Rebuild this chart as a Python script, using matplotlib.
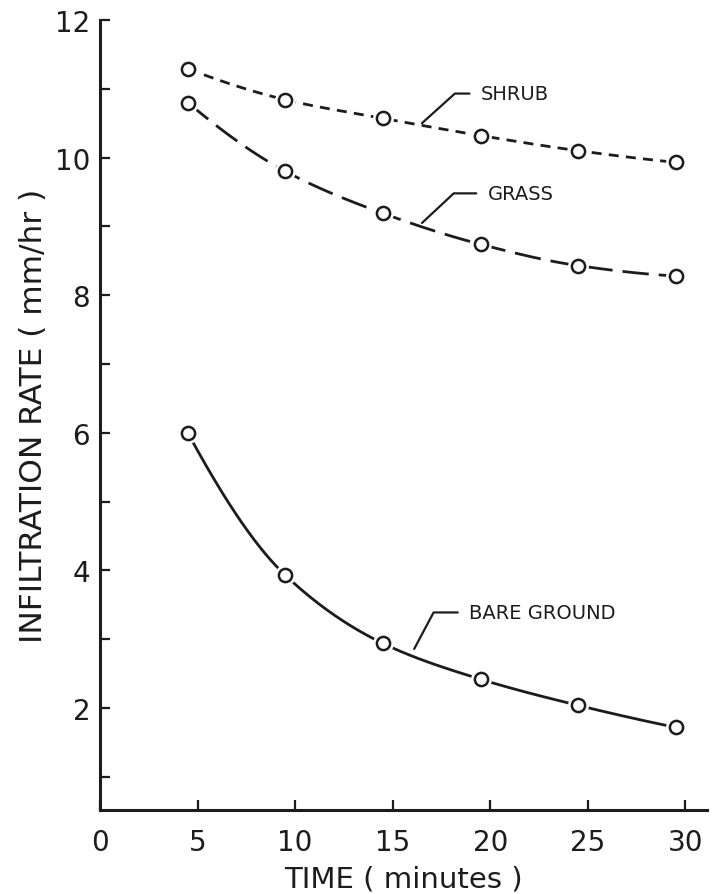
import numpy as np
import matplotlib
matplotlib.use("Agg")
import matplotlib.pyplot as plt

# ---- data ----
time_min = [4.5, 9.5, 14.5, 19.5, 24.5, 29.5]
shrub = [11.29, 10.84, 10.57, 10.32, 10.10, 9.93]
grass = [10.80, 9.80, 9.19, 8.74, 8.43, 8.28]
bare_ground = [6.00, 3.93, 2.94, 2.42, 2.04, 1.72]
series_labels = ["SHRUB", "GRASS", "BARE GROUND"]
x_ticks = [0, 5, 10, 15, 20, 25, 30]
y_ticks = [2, 4, 6, 8, 10, 12]
y_minor = [1, 3, 5, 7, 9, 11]
x_label = "TIME ( minutes )"
y_label = "INFILTRATION RATE ( mm/hr )"


def pchip(x, y, xs):
    """Monotone cubic Hermite curve through the points (for drawing)."""
    x = np.asarray(x, float)
    y = np.asarray(y, float)
    h = np.diff(x)
    d = np.diff(y) / h
    n = len(x)
    m = np.zeros(n)
    for k in range(1, n - 1):
        if d[k - 1] * d[k] <= 0:
            m[k] = 0.0
        else:
            w1 = 2 * h[k] + h[k - 1]
            w2 = h[k] + 2 * h[k - 1]
            m[k] = (w1 + w2) / (w1 / d[k - 1] + w2 / d[k])

    def end(h0, h1, d0, d1):
        v = ((2 * h0 + h1) * d0 - h0 * d1) / (h0 + h1)
        if np.sign(v) != np.sign(d0):
            v = 0.0
        elif np.sign(d0) != np.sign(d1) and abs(v) > abs(3 * d0):
            v = 3 * d0
        return v

    m[0] = end(h[0], h[1], d[0], d[1])
    m[-1] = end(h[-1], h[-2], d[-1], d[-2])
    xs = np.asarray(xs, float)
    idx = np.clip(np.searchsorted(x, xs) - 1, 0, n - 2)
    t = (xs - x[idx]) / h[idx]
    h00 = 2 * t**3 - 3 * t**2 + 1
    h10 = t**3 - 2 * t**2 + t
    h01 = -2 * t**3 + 3 * t**2
    h11 = t**3 - t**2
    return (h00 * y[idx] + h10 * h[idx] * m[idx]
            + h01 * y[idx + 1] + h11 * h[idx] * m[idx + 1])


INK = "#1c1c1c"
plt.rcParams["font.family"] = ["DejaVu Sans"]

fig = plt.figure(figsize=(7.12, 8.95), dpi=100)
ax = fig.add_axes([0.1404, 0.0939, 0.8525, 0.8827])

xs = np.linspace(time_min[0], time_min[-1], 300)
styles = [
    dict(dashes=(3.6, 2.6)),   # shrub: short dashes
    dict(dashes=(9.5, 3.6)),   # grass: long dashes
    dict(linestyle="-"),       # bare ground: solid
]
for vals, st in zip([shrub, grass, bare_ground], styles):
    ax.plot(xs, pchip(time_min, vals, xs), color=INK, lw=2.0, zorder=2,
            solid_capstyle="butt", dash_capstyle="butt", **st)
    # white halo to leave a small gap around each circle
    ax.plot(time_min, vals, linestyle="none", marker="o", ms=15,
            mfc="white", mec="none", zorder=3)
    ax.plot(time_min, vals, linestyle="none", marker="o", ms=9.5,
            mfc="white", mec=INK, mew=1.8, zorder=4)

# leader-line labels
label_text_pos = [(19.5, 10.93), (19.85, 9.48), (18.9, 3.39)]
label_point = [(16.5, 10.50), (16.5, 9.05), (16.1, 2.86)]
label_angle = [42, 43, 62]
for lab, tp, pp, ang in zip(series_labels, label_text_pos, label_point, label_angle):
    ax.annotate(lab, xy=pp, xytext=tp, ha="left", va="center",
                fontsize=14, color=INK,
                arrowprops=dict(arrowstyle="-", color=INK, lw=1.6,
                                relpos=(0, 0.5), shrinkA=6, shrinkB=0,
                                connectionstyle=f"angle,angleA=0,angleB={ang},rad=0"))

ax.set_xlim(0, 31.1)
ax.set_ylim(0.52, 12)
ax.set_xticks(x_ticks)
ax.set_yticks(y_ticks)
ax.set_yticks(y_minor, minor=True)

for s in ["top", "right"]:
    ax.spines[s].set_visible(False)
for s in ["left", "bottom"]:
    ax.spines[s].set_linewidth(2.2)
    ax.spines[s].set_color(INK)

ax.tick_params(axis="both", which="both", direction="in", length=7.5,
               width=1.6, color=INK, labelcolor=INK)
ax.tick_params(axis="y", which="major", labelsize=20, pad=7)
ax.tick_params(axis="x", which="major", labelsize=20, pad=13)

ax.set_xlabel(x_label, fontsize=21, color=INK, labelpad=6)
ax.set_ylabel(y_label, fontsize=22.5, color=INK, labelpad=5)

fig.savefig("out.png", dpi=100, facecolor="white")
